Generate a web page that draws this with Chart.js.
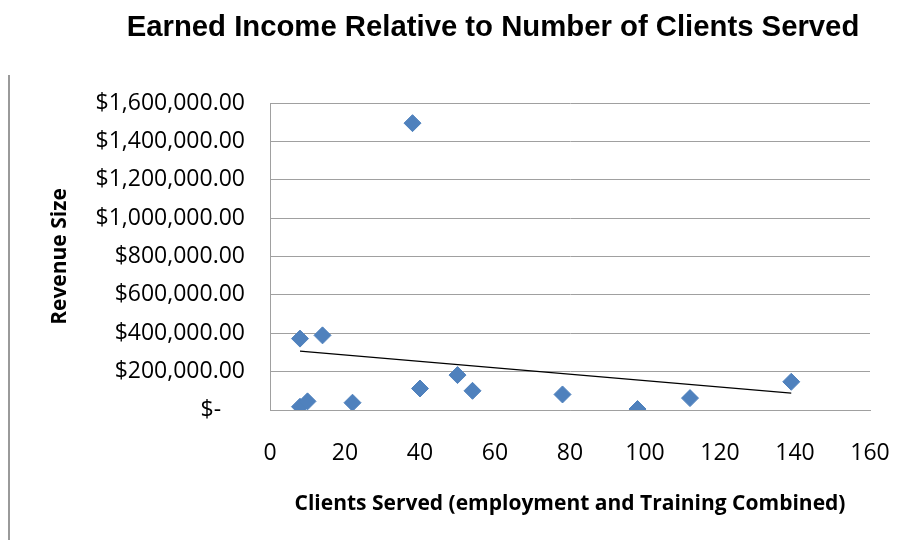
<!DOCTYPE html>
<html>
<head>
<meta charset="utf-8">
<script src="https://cdn.jsdelivr.net/npm/chart.js@4.4.0/dist/chart.umd.min.js"></script>
<style>
	html, body { margin: 0; padding: 0; background: #ffffff; }
	#wrap { width: 904px; height: 540px; position: relative; }
</style>
</head>
<body>
<div id="wrap"><canvas id="clients-income" width="904" height="540"></canvas></div>
<script>
const chartTitle = "Earned Income Relative to Number of Clients Served";
const clientsServed = [8, 14, 38, 8, 10, 22, 40, 50, 54, 78, 98, 112, 139];
const revenue = [372000, 389000, 1495000, 17000, 45000, 38000, 112000, 182000, 100000, 81000, 5000, 62000, 147000];
const xTicks = [0, 20, 40, 60, 80, 100, 120, 140, 160];
const yTicks = [0, 200000, 400000, 600000, 800000, 1000000, 1200000, 1400000, 1600000];

// linear trend line (least squares) over the points
function trendLine(xs, ys) {
	const n = xs.length;
	const mx = xs.reduce((a, b) => a + b, 0) / n;
	const my = ys.reduce((a, b) => a + b, 0) / n;
	let sxy = 0, sxx = 0;
	for (let i = 0; i < n; i++) {
		sxy += (xs[i] - mx) * (ys[i] - my);
		sxx += (xs[i] - mx) * (xs[i] - mx);
	}
	const slope = sxy / sxx;
	const x0 = Math.min(...xs), x1 = Math.max(...xs);
	return [{ x: x0, y: my + slope * (x0 - mx) }, { x: x1, y: my + slope * (x1 - mx) }];
}

const points = clientsServed.map((x, i) => ({ x: x, y: revenue[i] }));

const money = new Intl.NumberFormat('en-US', { minimumFractionDigits: 2, maximumFractionDigits: 2 });

const decor = {
	id: 'decor',
	afterDraw(chart) {
		const ctx = chart.ctx;
		ctx.save();
		ctx.fillStyle = '#000000';
		ctx.font = 'bold 29.3px "Liberation Sans", Arial, sans-serif';
		ctx.textAlign = 'center';
		ctx.textBaseline = 'middle';
		ctx.fillText(chartTitle, 493, 28);
		ctx.strokeStyle = '#9a9a9a';
		ctx.lineWidth = 2;
		ctx.beginPath();
		ctx.moveTo(9, 75);
		ctx.lineTo(9, 540);
		ctx.stroke();
		ctx.restore();
	}
};

const tickFont = { family: '"Open Sans", sans-serif', size: 23 };
const titleFont = { family: '"Open Sans", sans-serif', size: 21, weight: 'bold' };

new Chart(document.querySelector("#clients-income"), {
	type: "scatter",
	data: {
		datasets: [{
			label: "Revenue",
			data: points,
			pointStyle: 'rectRot',
			pointRadius: 8.5,
			pointHoverRadius: 8.5,
			backgroundColor: "#4F81BD",
			borderColor: "#4F81BD",
			borderWidth: 1
		}, {
			label: "Trend",
			data: trendLine(clientsServed, revenue),
			showLine: true,
			pointRadius: 0,
			borderColor: "#000000",
			borderWidth: 1.3,
			fill: false
		}]
	},
	options: {
		responsive: false,
		animation: false,
		layout: { padding: { top: 103, right: 34, bottom: 0, left: 0 } },
		plugins: {
			legend: { display: false },
			tooltip: { enabled: false }
		},
		scales: {
			x: {
				type: 'linear',
				min: 0,
				max: 160,
				afterBuildTicks: (scale) => { scale.ticks = xTicks.map(v => ({ value: v })); },
				afterFit: (scale) => {
					scale.height = 130;
					scale.paddingLeft = 0;
					scale.paddingRight = 0;
				},
				grid: { display: false, drawTicks: false },
				border: { display: true, color: '#a0a0a0', width: 1 },
				ticks: { font: tickFont, color: '#000000', padding: 30, maxRotation: 0 },
				title: {
					display: true,
					text: 'Clients Served (employment and Training Combined)',
					font: titleFont,
					color: '#000000',
					padding: { top: 0, bottom: 23 }
				}
			},
			y: {
				min: 0,
				max: 1600000,
				afterBuildTicks: (scale) => { scale.ticks = yTicks.map(v => ({ value: v })); },
				afterFit: (scale) => {
					scale.width = 270;
					scale.paddingTop = 0;
					scale.paddingBottom = 0;
				},
				grid: { color: '#a0a0a0', lineWidth: 1, drawTicks: false },
				border: { display: true, color: '#a0a0a0', width: 1 },
				ticks: {
					font: tickFont,
					color: '#000000',
					padding: 25,
					callback: function (value) {
						return value === 0 ? '$-    ' : '$' + money.format(value);
					}
				},
				title: {
					display: true,
					text: 'Revenue Size',
					font: titleFont,
					color: '#000000',
					padding: { top: 47, bottom: 0 }
				}
			}
		}
	},
	plugins: [decor]
});
</script>
</body>
</html>
